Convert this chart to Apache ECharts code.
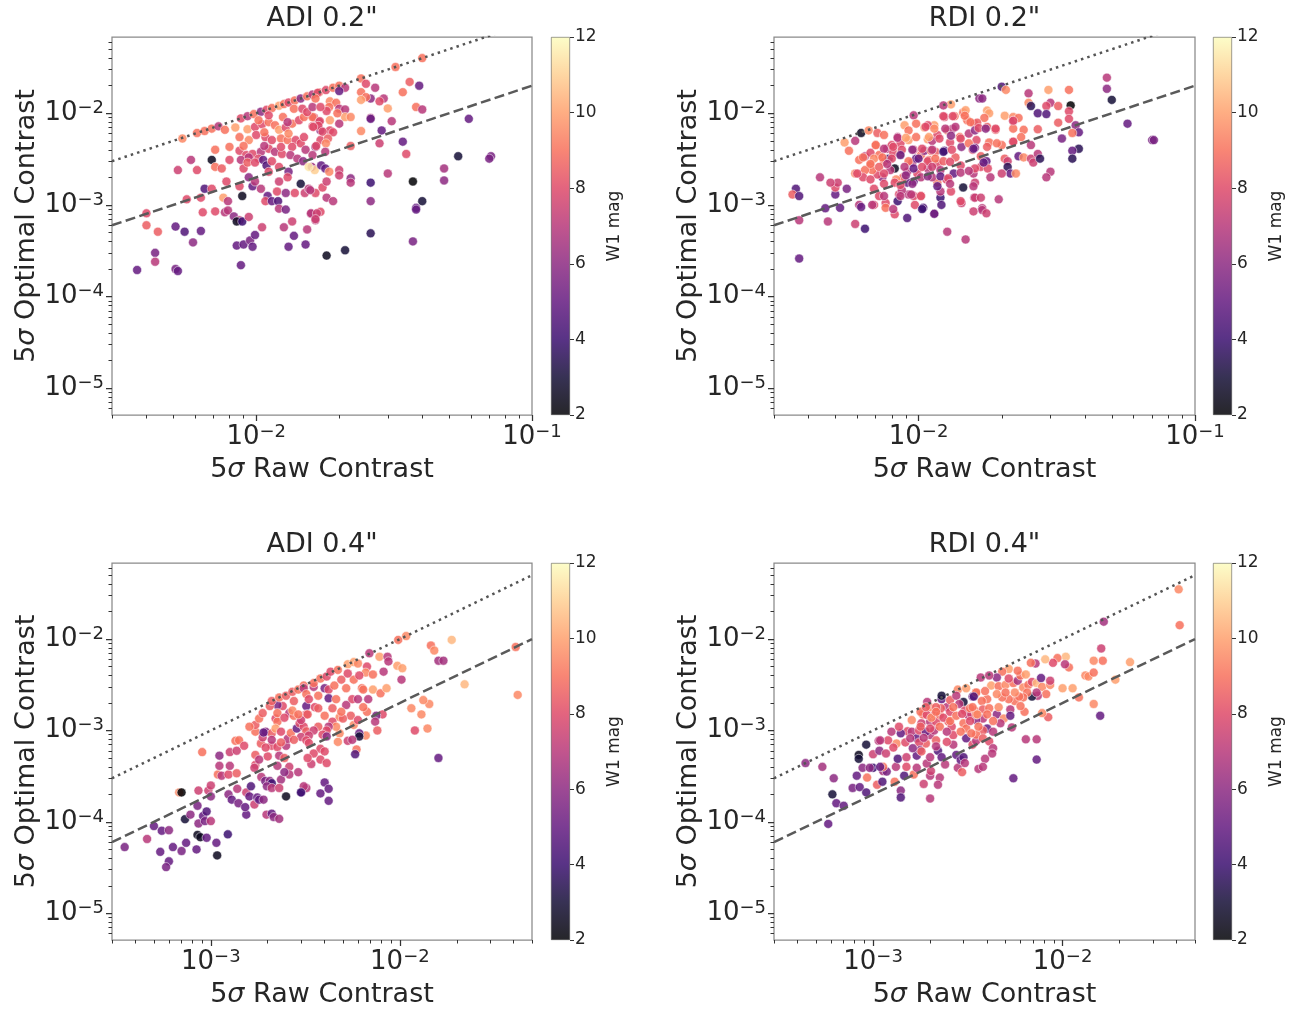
<!DOCTYPE html>
<html><head><meta charset="utf-8">
<script src="https://cdn.jsdelivr.net/npm/echarts@6/dist/echarts.min.js"></script>
<style>html,body{margin:0;padding:0;background:#fff}#chart{width:1290px;height:1011px}</style>
</head><body><div id="chart"></div>
<script>
// ---------- DATA: [raw contrast, optimal contrast, W1 mag] ----------
const adi02Points = [
[5.4e-3,5.3e-3,9.5],[6.1e-3,6.1e-3,9],[6.5e-3,6.4e-3,9],[6.9e-3,6.8e-3,9],[7.3e-3,7.2e-3,7],[7.7e-3,6.6e-3,9],[8.4e-3,7.0e-3,10],
[8.8e-3,8.8e-3,8],[9.3e-3,9.3e-3,7],[9.8e-3,9.8e-3,9],[1.04e-2,1.04e-2,6],[1.09e-2,1.09e-2,8],[1.14e-2,1.14e-2,9],[1.21e-2,1.21e-2,10],
[1.26e-2,1.26e-2,9],[1.31e-2,1.31e-2,8],[1.38e-2,1.38e-2,9],[1.45e-2,1.45e-2,6],[1.53e-2,1.53e-2,9],[1.6e-2,1.6e-2,7],[1.69e-2,1.69e-2,9],
[9.3e-3,6.7e-3,10],[9.9e-3,7.1e-3,8],[1.05e-2,7.6e-3,8],[1.11e-2,8.0e-3,9],[1.17e-2,7.4e-3,9],[1.21e-2,6.6e-3,10],[1.28e-2,7.0e-3,8],
[1.35e-2,7.7e-3,9],[1.43e-2,8.4e-3,8],[1.49e-2,9.1e-3,9],[1.37e-2,1.12e-2,9],[1.47e-2,1.12e-2,8],[1.62e-2,9.0e-3,8],[1.69e-2,8.0e-3,7],
[1.6e-2,7.2e-3,8],[1.71e-2,6.5e-3,6],[8.7e-3,5.5e-3,9],[9.4e-3,5.1e-3,9.5],[1.0e-2,5.8e-3,8],[1.08e-2,5.5e-3,8],[1.14e-2,5.1e-3,8],
[1.23e-2,5.3e-3,9],[1.3e-2,5.1e-3,9],[1.39e-2,5.1e-3,8],[1.45e-2,4.7e-3,8],[1.35e-2,4.3e-3,8],[1.51e-2,4.0e-3,7],[1.64e-2,4.3e-3,6],
[1.71e-2,5.1e-3,8],[7.1e-3,4.0e-3,9],[8.0e-3,4.3e-3,9],[8.7e-3,3.9e-3,8],[9.2e-3,3.5e-3,8],[9.7e-3,3.6e-3,8],[1.04e-2,3.8e-3,7],
[1.11e-2,4.1e-3,8],[1.17e-2,3.8e-3,7],[1.24e-2,3.6e-3,8],[1.33e-2,3.5e-3,7],[1.41e-2,3.2e-3,7],[5.8e-3,3.1e-3,7],[6.9e-3,3.1e-3,2.5],
[8.0e-3,3.1e-3,8],[8.8e-3,3.1e-3,7],[9.4e-3,3.3e-3,7],[1.02e-2,3.2e-3,8],[5.2e-3,2.4e-3,7.5],[6.1e-3,2.4e-3,8],[7.1e-3,2.6e-3,9],
[7.5e-3,2.5e-3,8.5],[9.0e-3,2.5e-3,8],[9.3e-3,2.9e-3,8.5],[9.9e-3,2.9e-3,8],[1.06e-2,3.1e-3,5],[1.09e-2,2.7e-3,4.5],[1.14e-2,3.0e-3,8],
[1.21e-2,2.6e-3,8],[1.31e-2,2.3e-3,5.5],[1.48e-2,3.0e-3,6],[1.59e-2,2.6e-3,6.5],[1.63e-2,2.4e-3,11],[6.5e-3,1.5e-3,4.5],[6.9e-3,1.5e-3,8],
[7.8e-3,1.8e-3,8],[8.7e-3,1.6e-3,8],[9.4e-3,2.0e-3,6],[9.7e-3,1.6e-3,5],[9.9e-3,1.8e-3,7],[1.04e-2,1.5e-3,7],[1.11e-2,2.3e-3,8],
[1.21e-2,1.8e-3,7.5],[1.3e-2,2.0e-3,8],[5.6e-3,1.15e-3,8],[6.3e-3,1.2e-3,8],[7.6e-3,1.2e-3,10],[7.9e-3,1.1e-3,7],[8.9e-3,1.25e-3,2.5],
[1.1e-2,1.25e-3,5],[1.19e-2,1.4e-3,8],[1.28e-2,1.35e-3,6],[1.38e-2,1.35e-3,8],[1.45e-2,1.7e-3,3],[1.5e-2,1.35e-3,7.5],[1.55e-2,1.5e-3,7],
[1.64e-2,1.35e-3,8],[1.74e-2,1.55e-3,8],[4.0e-3,8.1e-4,8],[6.4e-3,8.3e-4,8],[7.1e-3,8.5e-4,8],[7.7e-3,8.3e-4,7],[7.9e-3,8.7e-4,7],
[8.3e-3,7.5e-4,6],[8.7e-3,6.8e-4,7],[8.5e-3,6.6e-4,2.5],[8.9e-3,6.6e-4,4],[9.4e-3,7.4e-4,7.5],[1.08e-2,1.1e-3,8],[1.14e-2,1.1e-3,5],
[1.2e-2,1.1e-3,4.5],[1.21e-2,9.1e-4,7],[1.28e-2,8.9e-4,5.5],[1.35e-2,6.6e-4,7.5],[1.58e-2,8.0e-4,7],[1.64e-2,6.8e-4,7],[1.71e-2,8.4e-4,8],
[4.0e-3,6.0e-4,8.5],[4.4e-3,5.1e-4,8.5],[5.1e-3,5.8e-4,5],[5.5e-3,5.1e-4,4.5],[6.3e-3,5.2e-4,5],[5.9e-3,3.9e-4,6],[1.05e-2,5.7e-4,7.5],
[1.26e-2,5.7e-4,7],[1.37e-2,4.6e-4,5],[1.53e-2,5.4e-4,7],[1.51e-2,3.7e-4,5],[1.31e-2,3.5e-4,5],[8.5e-3,3.6e-4,5],[9.0e-3,3.7e-4,5],
[9.5e-3,4.1e-4,5.5],[9.7e-3,3.5e-4,5],[9.9e-3,4.7e-4,5],[4.3e-3,3.0e-4,5.5],[4.3e-3,2.4e-4,7],[3.7e-3,1.95e-4,5],[5.1e-3,2.0e-4,5.5],
[5.2e-3,1.9e-4,5],[8.8e-3,2.2e-4,5],
[1.67e-2,1.67e-2,8],[1.79e-2,1.79e-2,8],[1.9e-2,1.9e-2,9],[2.0e-2,2.0e-2,9],[2.1e-2,1.9e-2,7],[2.4e-2,2.4e-2,9],[2.5e-2,2.1e-2,8],
[3.2e-2,3.2e-2,9],[4.0e-2,4.0e-2,9],[2.0e-2,1.75e-2,5],[2.7e-2,1.9e-2,7],[3.6e-2,2.2e-2,8.5],[3.9e-2,2.0e-2,5],[3.4e-2,1.7e-2,9],
[2.4e-2,1.7e-2,9],[2.6e-2,1.45e-2,6],[2.5e-2,1.5e-2,9],[2.9e-2,1.45e-2,7],[2.8e-2,1.35e-2,8],[2.4e-2,1.4e-2,10],[1.85e-2,1.35e-2,9.5],
[1.95e-2,1.3e-2,9],[1.84e-2,1.17e-2,9],[1.8e-2,1.06e-2,8],[2.0e-2,1.12e-2,7],[2.1e-2,1.1e-2,7],[3.0e-2,1.13e-2,10],[3.8e-2,1.17e-2,9],
[4.0e-2,1.1e-2,7],[2.1e-2,9.1e-3,10],[2.2e-2,9.1e-3,9.5],[2.6e-2,8.9e-3,7],[2.6e-2,8.7e-3,5],[3.1e-2,8.2e-3,7],[5.9e-2,8.7e-3,5],
[1.6e-2,9.1e-3,9],[1.7e-2,8.2e-3,8],[1.85e-2,8.4e-3,10],[1.68e-2,7.3e-3,8],[1.85e-2,6.5e-3,8],[1.9e-2,6.2e-3,8],[1.74e-2,6.3e-3,8],
[2.4e-2,6.4e-3,9.5],[2.85e-2,6.5e-3,5],[1.82e-2,5.3e-3,8.5],[1.79e-2,4.7e-3,9.5],[1.65e-2,4.4e-3,8],[1.78e-2,3.8e-3,7],[2.2e-2,4.4e-3,8.5],
[2.8e-2,4.7e-3,7.5],[3.4e-2,4.9e-3,5],[3.5e-2,3.6e-3,8],[5.4e-2,3.4e-3,3],[7.1e-2,3.4e-3,5.5],[7.0e-2,3.2e-3,5.5],[1.55e-2,2.6e-3,11.5],
[1.72e-2,2.7e-3,5],[1.78e-2,2.5e-3,5],[1.84e-2,2.3e-3,9.5],[2.0e-2,2.4e-3,7.5],[2.0e-2,2.1e-3,7.5],[2.2e-2,1.95e-3,6],[2.2e-2,1.75e-3,7],
[3.0e-2,2.2e-3,7],[2.6e-2,1.75e-3,4],[3.7e-2,1.8e-3,2],[4.8e-2,2.5e-3,6.5],[4.8e-2,1.85e-3,6],[1.8e-2,1.8e-3,7.5],[1.57e-2,1.45e-3,7],
[1.8e-2,1.2e-3,7],[1.9e-2,1.1e-3,7],[2.6e-2,1.1e-3,6],[4.0e-2,1.1e-3,3],[3.8e-2,9.3e-4,5],[3.8e-2,8.9e-4,5],[1.58e-2,8.1e-4,7],
[1.66e-2,8.1e-4,7.5],[1.64e-2,7.0e-4,7.5],[2.6e-2,4.9e-4,3.5],[3.7e-2,4.0e-4,5.5],[2.1e-2,3.2e-4,3],[1.8e-2,2.8e-4,2.5],
[1.02e-2,8.4e-3,9],[1.11e-2,9.5e-3,8],[1.25e-2,9.1e-3,9],[1.3e-2,8.0e-3,7],[1.53e-2,1.03e-2,8],[1.6e-2,1.17e-2,7],[1.07e-2,6.2e-3,9],
[1.31e-2,6.0e-3,9.5],[1.49e-2,5.5e-3,8],[9.0e-3,4.4e-3,9],[1.07e-2,4.4e-3,7],[1.23e-2,4.3e-3,8],[1.6e-2,3.5e-3,7],[1.64e-2,1.45e-2,9],
[1.71e-2,1.17e-2,8],[1.97e-2,1.0e-2,9],[1.61e-2,7.1e-3,8],[2.0e-2,7.7e-3,7]
];
const rdi02Points = [
[6.2e-3,6.1e-3,2.5],[6.6e-3,6.5e-3,9.5],[7.1e-3,6.1e-3,8.5],[5.4e-3,4.8e-3,10],[5.9e-3,5.0e-3,7],[5.6e-3,3.9e-3,9],[6.1e-3,3.1e-3,9],
[6.4e-3,3.4e-3,7],[6.7e-3,2.7e-3,9],[7.0e-3,4.5e-3,9],[7.2e-3,3.5e-3,9],[7.5e-3,2.95e-3,9],[7.7e-3,4.1e-3,7],[7.8e-3,3.2e-3,4],
[8.2e-3,2.5e-3,2.5],[8.1e-3,3.7e-3,8],[8.4e-3,5.5e-3,7],[8.6e-3,3.6e-3,9.5],[8.9e-3,7.4e-3,10],[9.2e-3,6.5e-3,9],[9.2e-3,5.1e-3,10],
[9.6e-3,9.5e-3,7],[9.6e-3,4.0e-3,8],[9.5e-3,2.9e-3,7],[9.8e-3,3.2e-3,5],[9.9e-3,2.2e-3,8],[9.6e-3,1.8e-3,5],[1.02e-2,3.5e-3,9],
[1.05e-2,7.0e-3,10],[1.05e-2,3.9e-3,6],[1.08e-2,5.2e-3,10],[1.09e-2,3.1e-3,9],[1.08e-2,2.5e-3,7],[1.14e-2,7.4e-3,10],[1.17e-2,5.8e-3,8],
[1.15e-2,3.8e-3,8.5],[1.17e-2,2.8e-3,8],[1.2e-2,1.2e-3,4],[1.21e-2,1.0e-3,4.5],[1.2e-2,1.4e-3,7],[1.24e-2,3.9e-3,5],[1.24e-2,9.1e-3,8],
[1.31e-2,1.25e-2,10],[1.23e-2,1.22e-2,7],[1.27e-2,6.5e-3,9],[1.3e-2,4.8e-3,8],[1.33e-2,6.8e-3,7],[1.35e-2,9.3e-3,9],[1.36e-2,3.3e-3,8.5],
[1.41e-2,5.5e-3,9],[1.43e-2,4.3e-3,6],[1.45e-2,1.02e-2,9],[1.48e-2,1.08e-2,10],[1.45e-2,1.55e-3,3],[1.5e-2,8.4e-3,9],[1.52e-2,6.0e-3,7],
[1.59e-2,7.7e-3,8],[1.62e-2,5.1e-3,8],[1.57e-2,4.0e-3,8],[1.58e-2,2.2e-3,7],[1.59e-2,1.2e-3,7],[1.66e-2,1.45e-2,6],[1.34e-2,2.2e-3,5],
[1.26e-2,1.9e-3,8],[1.17e-2,1.75e-3,9],[1.12e-2,2.0e-3,7],[9.1e-3,1.75e-3,5],[1.02e-2,1.25e-3,9],[1.14e-2,8.0e-4,7],[1.04e-2,9.3e-4,4.5],
[9.7e-3,1.0e-3,8],[9.1e-3,7.2e-4,4.5],[9.2e-3,1.3e-3,7],[8.5e-3,1.3e-3,8],[8.4e-3,1.1e-3,4],[8.2e-3,7.9e-4,8],[7.6e-3,1.05e-3,8],
[7.6e-3,9.3e-4,9],[7.2e-3,1.25e-3,8],[6.9e-3,1.0e-3,8],[6.9e-3,1.5e-3,8],[7.4e-3,2.0e-3,6],[6.1e-3,1.0e-3,7],[6.2e-3,9.5e-4,5],
[5.9e-3,6.2e-4,7.5],[6.4e-3,5.5e-4,4],[5.5e-3,1.5e-3,5.5],[5.2e-3,9.3e-4,5],[5.0e-3,1.3e-3,5],[5.0e-3,1.55e-3,8],[5.1e-3,1.75e-3,7.5],
[4.8e-3,1.75e-3,7.5],[4.6e-3,9.2e-4,5],[4.7e-3,6.6e-4,7],[4.4e-3,2.0e-3,7],[3.6e-3,1.5e-3,4.5],[3.5e-3,1.3e-3,8.5],[3.7e-3,1.25e-3,4.5],
[3.7e-3,6.8e-4,7],[3.7e-3,2.6e-4,5],[1.27e-2,5.1e-4,7],[1.48e-2,4.2e-4,7],[1.43e-2,1.05e-3,7.5],[1.31e-2,1.4e-3,8],[9.6e-3,1.25e-3,8],
[8.7e-3,1.45e-3,7],[8.8e-3,2.0e-3,8.5],[8.3e-3,1.9e-3,9.5],[7.9e-3,2.4e-3,7],[7.1e-3,2.15e-3,8],[6.8e-3,2.4e-3,9],[6.4e-3,2.4e-3,9],
[5.9e-3,2.2e-3,9.5],[6.3e-3,2.0e-3,8],[9.1e-3,2.3e-3,7],[8.2e-3,1.75e-3,8],[8.6e-3,4.7e-3,8],[7.5e-3,5.8e-3,9],[8.0e-3,4.5e-3,8],
[6.7e-3,3.7e-3,8],[1.08e-2,7.4e-3,8],[1.11e-2,3.9e-3,9],[1.12e-2,5.0e-3,7],
[2.0e-2,1.95e-2,4.5],[2.07e-2,1.8e-2,9.5],[1.7e-2,1.45e-2,6],[2.5e-2,1.65e-2,7],[2.5e-2,1.3e-2,9.5],[2.55e-2,1.2e-2,3.5],[2.95e-2,1.8e-2,10],
[3.5e-2,1.8e-2,9],[3.0e-2,1.3e-2,7],[2.9e-2,1.2e-2,8],[3.2e-2,1.2e-2,8.5],[3.55e-2,1.22e-2,2],[3.5e-2,1.05e-2,8],[3.5e-2,8.7e-3,8],
[2.7e-2,1.0e-2,4.5],[2.9e-2,9.8e-3,4.5],[3.2e-2,7.9e-3,8.5],[3.7e-2,7.4e-3,6],[3.8e-2,6.2e-3,5],[3.6e-2,6.1e-3,9],[3.3e-2,5.3e-3,5.5],
[3.8e-2,4.1e-3,3.5],[3.6e-2,3.9e-3,5],[3.6e-2,3.2e-3,3.5],[4.8e-2,2.45e-2,7],[4.8e-2,1.85e-2,6],[5.0e-2,1.4e-2,3],[5.7e-2,7.7e-3,5],
[7.0e-2,5.1e-3,5.5],[7.1e-2,5.1e-3,5.5],[2.05e-2,9.4e-3,10],[2.2e-2,9.1e-3,9.5],[2.2e-2,8.2e-3,7],[2.3e-2,8.9e-3,9],[2.2e-2,6.8e-3,9],
[2.4e-2,6.6e-3,9],[2.7e-2,6.7e-3,8.5],[2.35e-2,5.5e-3,9],[2.2e-2,4.9e-3,8.5],[2.55e-2,4.5e-3,7],[2.0e-2,4.5e-3,9],[1.77e-2,1.07e-2,10],
[1.8e-2,1.0e-2,10],[1.73e-2,8.9e-3,9],[1.63e-2,7.9e-3,8.5],[1.77e-2,7.1e-3,8.5],[1.9e-2,6.6e-3,8.5],[1.6e-2,6.5e-3,6],[1.8e-2,4.8e-3,9],
[1.77e-2,4.3e-3,8.5],[1.6e-2,4.2e-3,6],[1.68e-2,3.4e-3,8.5],[1.76e-2,3.0e-3,5],[1.68e-2,2.6e-3,8],[1.78e-2,2.5e-3,8],[1.6e-2,2.5e-3,8],
[2.05e-2,3.2e-3,8.5],[2.1e-2,3.0e-3,7.5],[2.3e-2,3.4e-3,5],[2.4e-2,3.3e-3,9.5],[2.55e-2,3.2e-3,7.5],[2.6e-2,2.9e-3,7.5],[2.7e-2,3.6e-3,7],
[2.75e-2,3.2e-3,3.5],[2.1e-2,2.6e-3,3.5],[2.15e-2,2.2e-3,5],[2.25e-2,2.2e-3,9.5],[2.0e-2,2.2e-3,7.5],[1.82e-2,2.0e-3,7],[3.0e-2,2.3e-3,7],
[2.9e-2,2.0e-3,7],[1.6e-2,1.75e-3,7.5],[1.6e-2,1.2e-3,7.5],[1.68e-2,1.2e-3,7.5],[1.95e-2,1.15e-3,7],[1.7e-2,9.2e-4,7],[1.7e-2,8.8e-4,7],
[1.76e-2,8.1e-4,7.5],[1.58e-2,8.5e-4,7.5],
[1.23e-2,9.3e-3,8],[1.33e-2,9.3e-3,8],[1.47e-2,9.4e-3,9],[9.8e-3,7.7e-3,9],[1.06e-2,7.1e-3,8],[1.14e-2,6.8e-3,9.5],[1.25e-2,6.8e-3,7],
[1.36e-2,7.1e-3,7],[1.54e-2,8.0e-3,9],[1.65e-2,6.9e-3,8],[1.75e-2,6.8e-3,6],[1.9e-2,6.8e-3,8],[2.2e-2,8.3e-3,8],[8.4e-3,5.4e-3,7],
[9.0e-3,5.4e-3,10],[9.8e-3,5.5e-3,9],[1.09e-2,5.5e-3,10],[1.19e-2,5.3e-3,8],[1.31e-2,5.7e-3,6],[1.42e-2,5.3e-3,8],[1.52e-2,4.7e-3,9],
[1.58e-2,4.1e-3,5],[1.92e-2,4.7e-3,9],[2.2e-2,4.9e-3,8],[7.0e-3,4.5e-3,9],[7.5e-3,4.1e-3,7],[8.1e-3,4.3e-3,8],[8.7e-3,4.0e-3,8],
[9.5e-3,4.0e-3,6],[1.03e-2,4.1e-3,8],[1.12e-2,4.0e-3,7],[1.23e-2,3.8e-3,4],[1.32e-2,4.0e-3,8],[6.3e-3,3.3e-3,9],[6.9e-3,3.2e-3,9.5],
[7.4e-3,3.3e-3,9],[8.0e-3,3.2e-3,8],[8.6e-3,3.5e-3,5],[9.2e-3,3.0e-3,9],[1.0e-2,3.2e-3,5],[1.08e-2,3.0e-3,8],[1.15e-2,3.2e-3,9],
[1.23e-2,3.0e-3,8.5],[1.3e-2,2.95e-3,8],[1.42e-2,2.7e-3,8],[6.7e-3,2.8e-3,9],[7.2e-3,2.6e-3,8.5],[7.7e-3,2.8e-3,7],[8.9e-3,2.6e-3,7],
[9.6e-3,2.5e-3,5],[1.03e-2,2.6e-3,8],[1.12e-2,2.6e-3,7.5],[1.2e-2,2.4e-3,7],[6.0e-3,2.2e-3,8],[7.5e-3,2.2e-3,8],[9.0e-3,2.1e-3,6],
[1.02e-2,2.0e-3,7],[1.08e-2,2.05e-3,6],[1.2e-2,2.05e-3,5],[1.28e-2,1.95e-3,8],[1.42e-2,2.25e-3,7],[1.52e-2,2.35e-3,7],[1.72e-2,2.9e-3,5],
[6.7e-3,1.9e-3,8],[7.5e-3,1.7e-3,8],[8.6e-3,1.65e-3,8],[9.5e-3,1.7e-3,6],[1.17e-2,1.6e-3,5],[1.3e-2,1.7e-3,7],[1.58e-2,1.6e-3,7],
[7.5e-3,1.25e-3,7],[8.6e-3,1.25e-3,7],[9.4e-3,1.3e-3,7],[1.02e-2,1.25e-3,8],[1.42e-2,1.1e-3,8],[6.8e-3,1.0e-3,7],[8.1e-3,9.0e-4,7],
[1.03e-2,9.0e-4,4],[1.14e-2,8.0e-4,5]
];
const adi04Points = [
[3.5e-4,5.3e-5,5.5],[4.6e-4,6.5e-5,7],[5.0e-4,9.0e-5,5],[5.5e-4,8.0e-5,5],[6.0e-4,8.1e-5,6],[5.4e-4,4.7e-5,5],[6.0e-4,3.7e-5,5],
[5.8e-4,3.2e-5,5.5],[6.3e-4,5.3e-5,5],[7.0e-4,4.8e-5,5.5],[7.4e-4,5.9e-5,5],[8.4e-4,5.0e-5,5],[8.5e-4,7.2e-5,2.5],[8.8e-4,6.8e-5,2.5],
[9.5e-4,6.7e-5,5],[1.07e-3,5.9e-5,5],[1.08e-3,4.3e-5,2.5],[1.23e-3,7.3e-5,4],[7.3e-4,1.07e-4,3],[7.8e-4,1.2e-4,6],[8.6e-4,9.6e-5,6],
[9.1e-4,1.16e-4,5],[9.5e-4,1.3e-4,4.5],[9.3e-4,1.02e-4,5.5],[1.0e-3,1.02e-4,7],[8.5e-4,1.5e-4,5.5],[8.6e-4,2.2e-4,7.5],[6.8e-4,2.1e-4,9.5],
[7.0e-4,2.1e-4,2],[9.7e-4,2.2e-4,7.5],[1.0e-3,2.5e-4,7.5],[1.0e-3,1.9e-4,6],[1.09e-3,3.3e-4,9],[1.14e-3,3.2e-4,7],[1.11e-3,4.1e-4,7],
[1.11e-3,5.3e-4,6],[9.0e-4,5.8e-4,9],[1.24e-3,3.3e-4,8],[1.26e-3,4.1e-4,7],[1.26e-3,5.8e-4,7.5],[1.37e-3,6.0e-4,7.5],[1.24e-3,2.0e-4,6],
[1.29e-3,1.75e-4,5],[1.4e-3,1.6e-4,5.5],[1.38e-3,2.3e-4,7],[1.37e-3,3.4e-4,8.5],[1.35e-3,7.7e-4,9],[1.41e-3,7.8e-4,9],[1.5e-3,6.8e-4,8],
[1.54e-3,2.1e-4,7.5],[1.54e-3,1.2e-4,5],[1.52e-3,1.45e-4,5],[1.63e-3,2.45e-4,4.5],[1.6e-3,1.9e-4,5],[1.7e-3,1.55e-4,7.5],[1.76e-3,1.85e-4,5],
[1.8e-3,1.75e-4,5],[1.9e-3,1.75e-4,6],[1.97e-3,1.2e-4,7],[2.1e-3,1.23e-4,5],[2.15e-3,1.13e-4,6],[2.3e-3,1.08e-4,6.5],[1.72e-3,5.4e-4,8.5],
[1.72e-3,4.2e-4,8],[1.7e-3,3.9e-4,7.5],[1.84e-3,7.2e-4,8.5],[1.88e-3,8.4e-4,7.5],[1.72e-3,9.7e-4,9],[1.72e-3,1.15e-3,8.5],[1.8e-3,1.35e-3,9],
[1.88e-3,1.55e-3,8.5],[1.95e-3,9.7e-4,6],[2.1e-3,9.3e-4,8.5],[2.2e-3,1.35e-3,8],[2.25e-3,1.25e-3,9],[2.2e-3,1.05e-3,10],[2.1e-3,6.8e-4,8],
[2.25e-3,6.6e-4,8],[2.5e-3,6.8e-4,7],[2.3e-3,5.3e-4,7],[2.45e-3,5.0e-4,8.5],[2.0e-3,5.2e-4,8],[1.85e-3,3.1e-4,7],[1.94e-3,2.8e-4,5.5],
[2.05e-3,2.8e-4,6],[2.1e-3,2.65e-4,4],[1.98e-3,2.45e-4,6],[2.1e-3,2.35e-4,7],[2.35e-3,2.9e-4,6.5],[2.3e-3,2.35e-4,7.5],[2.5e-3,1.9e-4,2.5],
[2.6e-3,4.0e-4,7.5],[2.9e-3,3.5e-4,7],[2.6e-3,3.3e-4,7],[3.0e-3,2.1e-4,5],[3.2e-3,2.35e-4,7],[2.55e-3,8.1e-4,7],[2.65e-3,9.4e-4,9],
[2.35e-3,7.4e-4,8.5],[2.6e-3,1.55e-3,7],[2.75e-3,1.45e-3,9],[2.85e-3,1.05e-3,5],[2.95e-3,1.2e-3,8],[3.1e-3,1.1e-3,8],[3.2e-3,9.8e-4,8.5],
[3.0e-3,8.5e-4,7.5],[2.75e-3,2.1e-3,8.5],[2.4e-3,1.85e-3,8],[3.2e-3,1.85e-3,5],[2.25e-3,1.9e-3,5.5],[2.05e-3,1.85e-3,8.5],[2.1e-3,2.1e-3,8.5],
[2.3e-3,2.3e-3,9],[2.5e-3,2.4e-3,8.5],[2.7e-3,2.65e-3,8.5],[2.9e-3,2.8e-3,9],[3.1e-3,3.1e-3,9],[1.9e-3,9.5e-4,5],
[3.5e-3,3.0e-3,7],[3.1e-3,2.9e-3,7],[3.5e-3,3.3e-3,9],[3.8e-3,3.7e-3,9],[4.1e-3,3.9e-3,8],[4.0e-3,2.9e-3,5.5],[4.2e-3,2.8e-3,8],
[4.2e-3,2.25e-3,5],[4.3e-3,4.4e-3,8],[4.7e-3,4.6e-3,9],[5.3e-3,5.3e-3,10],[5.7e-3,5.6e-3,10],[6.0e-3,5.4e-3,9.5],[6.9e-3,7.0e-3,7],
[6.7e-3,5.0e-3,8],[6.6e-3,4.3e-3,9.5],[7.2e-3,4.1e-3,9],[7.8e-3,6.4e-3,10],[8.6e-3,6.4e-3,7],[8.7e-3,5.7e-3,7],[8.2e-3,4.4e-3,7],
[9.7e-3,5.1e-3,10],[1.03e-2,4.8e-3,10],[1.02e-2,3.6e-3,7],[9.8e-3,9.8e-3,9],[1.08e-2,1.08e-2,9.5],[1.46e-2,8.5e-3,9],[1.52e-2,7.5e-3,9.5],
[1.6e-2,5.8e-3,6.5],[1.7e-2,5.8e-3,6.5],[1.88e-2,9.8e-3,10.5],[2.2e-2,3.2e-3,10.5],[4.1e-2,8.2e-3,9],[4.2e-2,2.45e-3,9.5],[5.2e-3,2.9e-3,9],
[6.3e-3,2.9e-3,9],[6.4e-3,2.8e-3,9],[5.6e-3,2.2e-3,8],[5.2e-3,1.9e-3,7],[6.0e-3,2.2e-3,7],[6.8e-3,2.2e-3,7],[7.2e-3,2.8e-3,10],
[7.9e-3,2.55e-3,9],[8.5e-3,2.9e-3,10],[8.1e-3,1.5e-3,8],[7.5e-3,1.45e-3,5.5],[6.7e-3,1.6e-3,9],[7.4e-3,1.25e-3,7],[7.6e-3,1.0e-3,8.5],
[6.6e-3,8.8e-4,9.5],[6.1e-3,9.3e-4,5],[6.1e-3,8.6e-4,3],[5.9e-3,6.2e-4,9],[5.8e-3,5.5e-4,4.5],[4.8e-3,9.3e-4,9.5],[4.7e-3,7.5e-4,9.5],
[5.3e-3,7.7e-4,7.5],[5.6e-3,7.9e-4,7],[5.7e-3,1.15e-3,9.5],[5.5e-3,1.45e-3,8.5],[4.8e-3,1.4e-3,9.5],[4.4e-3,1.25e-3,8],[4.6e-3,1.1e-3,9.5],
[5.0e-3,1.35e-3,8.5],[4.2e-3,1.1e-3,7],[4.1e-3,1.0e-3,8],[3.9e-3,9.0e-4,8],[4.1e-3,8.6e-4,6],[3.7e-3,1.1e-3,8.5],[3.5e-3,1.0e-3,7.5],
[3.3e-3,8.8e-4,7.5],[3.2e-3,7.8e-4,8],[3.8e-3,6.3e-4,8],[4.0e-3,5.9e-4,8],[3.5e-3,5.6e-4,8],[3.8e-3,4.8e-4,8],[4.1e-3,4.4e-4,8],
[3.4e-3,4.3e-4,7.5],[3.1e-3,2.45e-4,7],[3.0e-3,2.1e-4,4],[4.0e-3,2.7e-4,5],[4.2e-3,2.3e-4,5],[3.8e-3,2.05e-4,5],[4.2e-3,1.7e-4,5],
[1.6e-2,5.0e-4,5],[1.2e-2,1.0e-3,8],[1.4e-2,1.05e-3,9.5],[1.3e-2,1.5e-3,9.5],[1.43e-2,1.95e-3,9.5],[1.33e-2,2.15e-3,9.5],[1.15e-2,1.75e-3,9.5],
[3.2e-3,2.5e-3,9],[3.55e-3,1.8e-3,8],[3.7e-3,1.75e-3,8.5],[3.2e-3,1.5e-3,8],[3.0e-3,1.3e-3,7.5],[4.9e-3,1.6e-3,9],[4.6e-3,2.2e-3,9],
[2.25e-3,1.55e-3,9],[2.45e-3,1.38e-3,8],[2.7e-3,1.65e-3,9.5],[2.9e-3,1.5e-3,9],[3.25e-3,1.5e-3,8.5],[2.35e-3,9.7e-4,8],[2.75e-3,7.9e-4,8.5],
[3.3e-3,7.3e-4,8],[2.1e-3,7.9e-4,7],[1.95e-3,6.5e-4,8],[1.8e-3,4.8e-4,7],[2.25e-3,4.1e-4,7],[2.45e-3,3.5e-4,6],[3.25e-3,5.0e-4,8],
[1.6e-3,1.1e-3,9],[3.3e-3,2.2e-3,8],[3.7e-3,2.4e-3,9],[4.5e-3,3.1e-3,9],[4.9e-3,3.6e-3,8.5],[5.7e-3,3.6e-3,9],[6.1e-3,4.0e-3,8],
[5.3e-3,4.2e-3,8],[4.4e-3,1.75e-3,8.5],[4.0e-3,1.45e-3,9],[6.0e-3,1.3e-3,8],[6.4e-3,1.8e-3,9]
];
const rdi04Points = [
[4.4e-4,4.4e-4,6],[5.4e-4,4.0e-4,6.5],[6.2e-4,3.0e-4,6],[6.1e-4,2.0e-4,3],[6.4e-4,1.6e-4,5],[7.0e-4,1.5e-4,5],[5.8e-4,9.5e-5,5],
[9.2e-4,7.0e-4,3],[8.4e-4,5.4e-4,2.5],[8.4e-4,4.9e-4,3],[8.8e-4,3.9e-4,6],[8.2e-4,3.2e-4,5],[7.8e-4,2.35e-4,5.5],[8.5e-4,2.4e-4,5],
[9.2e-4,2.1e-4,4.5],[9.3e-4,3.05e-4,9],[1.0e-3,3.9e-4,4],[1.0e-3,5.5e-4,7.5],[1.07e-3,7.7e-4,7],[1.08e-3,6.0e-4,6],[1.2e-3,7.8e-4,8],
[1.13e-3,3.6e-4,6.5],[1.18e-3,3.55e-4,5.5],[1.05e-3,2.55e-4,8.5],[1.12e-3,2.75e-4,4.5],[1.33e-3,7.2e-4,9.5],[1.32e-3,4.0e-4,7],[1.35e-3,4.9e-4,4.5],
[1.3e-3,2.75e-4,9],[1.4e-3,2.2e-4,6],[1.4e-3,1.85e-4,4.5],[1.46e-3,3.2e-4,4.5],[1.5e-3,5.1e-4,7.5],[1.5e-3,4.0e-4,8],[1.48e-3,7.4e-4,8],
[1.52e-3,9.8e-4,8],[1.6e-3,1.3e-3,9.5],[1.6e-3,9.7e-4,7],[1.64e-3,3.3e-4,9],[1.7e-3,3.9e-4,7],[1.7e-3,5.3e-4,5],[1.7e-3,8.2e-4,5],
[1.75e-3,1.0e-3,8],[1.8e-3,1.2e-3,7.5],[1.83e-3,1.5e-3,9],[1.85e-3,2.6e-4,7.5],[1.92e-3,4.35e-4,7],[2.0e-3,3.2e-4,7],[2.0e-3,5.1e-4,7],
[2.02e-3,3.6e-4,7.5],[2.0e-3,1.8e-4,7],[1.9e-3,7.2e-4,8.5],[2.0e-3,8.9e-4,7],[1.9e-3,9.7e-4,5],[2.0e-3,1.25e-3,7],[2.1e-3,1.48e-3,8],
[2.0e-3,1.8e-3,9.5],[1.93e-3,2.05e-3,7],[2.1e-3,1.0e-3,7],[2.15e-3,7.8e-4,8.5],[2.2e-3,6.0e-4,4.5],[2.25e-3,3.05e-4,7],[2.2e-3,2.55e-4,7],
[2.3e-3,5.1e-4,5],[2.4e-3,4.25e-4,7],[2.3e-3,2.2e-3,5],[2.3e-3,2.4e-3,3],[2.45e-3,1.8e-3,7],[2.55e-3,1.6e-3,8],[2.5e-3,1.25e-3,8.5],
[2.6e-3,1.1e-3,8],[2.65e-3,8.9e-4,8],[2.65e-3,7.0e-4,7],[2.75e-3,5.4e-4,5],[2.8e-3,3.9e-4,7],[2.95e-3,3.5e-4,8.5],[2.9e-3,4.75e-4,5],
[3.0e-3,5.1e-4,4.5],[3.05e-3,4.4e-4,7],[3.0e-3,2.05e-3,3],[2.8e-3,2.8e-3,9.5],[2.55e-3,2.15e-3,8.5],[3.1e-3,2.9e-3,10],[2.75e-3,2.4e-3,7],
[2.85e-3,1.95e-3,7],[3.05e-3,1.65e-3,8],[3.2e-3,1.45e-3,7],[3.0e-3,1.2e-3,9],[3.1e-3,1.05e-3,9],[3.3e-3,1.5e-3,7.5],[3.35e-3,2.35e-3,5],
[3.5e-3,2.6e-3,9.5],[3.1e-3,8.2e-4,5],[3.35e-3,7.0e-4,8],[3.5e-3,7.7e-4,7],[3.6e-3,3.8e-4,7],[2.15e-3,1.25e-3,8],[2.25e-3,1.48e-3,9],
[2.28e-3,1.75e-3,8.5],[2.15e-3,1.8e-3,8.5],[1.75e-3,7.4e-4,8],[1.77e-3,6.1e-4,6],[1.8e-3,5.9e-4,8.5],[1.62e-3,6.4e-4,6],[1.13e-3,4.0e-4,9],
[1.17e-3,5.6e-4,7.5],[1.09e-3,7.8e-4,7],[9.6e-4,3.9e-4,6],[1.09e-3,4.0e-4,5],
[4.1e-2,3.5e-2,9.5],[4.15e-2,1.42e-2,9],[1.65e-2,1.55e-2,6.5],[1.6e-2,7.9e-3,7.5],[1.63e-2,5.8e-3,9],[1.46e-2,5.8e-3,9.5],[2.27e-2,5.6e-3,10],
[1.04e-2,6.4e-3,10.5],[1.08e-2,4.9e-3,9],[9.4e-3,6.2e-3,9],[8.9e-3,5.5e-3,8],[1.03e-2,5.3e-3,7],[8.1e-3,6.0e-3,10.5],[7.2e-3,5.4e-3,7],
[6.8e-3,5.5e-3,9],[1.32e-2,4.0e-3,9.5],[1.37e-2,3.9e-3,9.5],[1.46e-2,4.3e-3,9],[1.9e-2,3.6e-3,10],[1.0e-2,2.9e-3,10],[1.13e-2,2.9e-3,10],
[1.22e-2,2.3e-3,9],[1.46e-2,1.95e-3,9.5],[1.58e-2,1.45e-3,5],[8.4e-3,1.4e-3,8.5],[7.8e-3,1.55e-3,9.5],[6.4e-3,8.0e-4,7],[7.3e-3,8.0e-4,7],
[7.3e-3,4.8e-4,5],[5.5e-3,3.0e-4,5],[5.2e-3,4.7e-3,10],[4.8e-3,4.4e-3,9],[3.7e-3,3.8e-3,7],[4.5e-3,3.8e-3,6],[4.2e-3,3.1e-3,10],
[4.6e-3,3.05e-3,9],[5.0e-3,3.15e-3,9.5],[5.5e-3,3.3e-3,9],[5.8e-3,3.5e-3,6.5],[6.0e-3,4.0e-3,9],[6.2e-3,2.95e-3,9.5],[6.6e-3,3.15e-3,9],
[6.9e-3,3.4e-3,8],[7.3e-3,3.3e-3,10.5],[7.8e-3,3.0e-3,9.5],[8.6e-3,3.15e-3,9.5],[8.2e-3,2.5e-3,9],[7.4e-3,2.4e-3,7],[6.9e-3,2.35e-3,3],
[6.5e-3,2.6e-3,9],[6.2e-3,2.3e-3,9],[5.6e-3,2.1e-3,9],[5.2e-3,2.2e-3,9],[4.8e-3,2.3e-3,9],[4.5e-3,2.5e-3,9.5],[4.0e-3,2.2e-3,9],
[3.5e-3,2.6e-3,9],[3.4e-3,2.35e-3,4.5],[3.75e-3,2.1e-3,9],[3.45e-3,1.65e-3,9],[3.8e-3,1.7e-3,8.5],[4.1e-3,1.75e-3,9],[4.5e-3,1.5e-3,6],
[5.3e-3,1.7e-3,7],[4.9e-3,1.35e-3,9.5],[4.7e-3,1.2e-3,7],[4.0e-3,1.05e-3,5],[4.3e-3,9.7e-4,7],[3.8e-3,1.35e-3,7],[3.5e-3,1.3e-3,6],
[3.8e-3,1.0e-3,8.5],[3.5e-3,9.0e-4,9],[3.8e-3,8.2e-4,8.5],[4.1e-3,7.6e-4,8],[4.3e-3,6.4e-4,7],[4.25e-3,5.6e-4,7],[3.9e-3,4.9e-4,7],
[3.8e-3,4.0e-4,7],[5.4e-3,1.08e-3,7],[5.3e-3,1.45e-3,5],[6.3e-3,1.6e-3,9],[5.9e-3,2.35e-3,9],[7.7e-3,3.75e-3,5],[8.6e-3,3.5e-3,7.5],
[7.3e-3,2.6e-3,7],
[1.78e-3,1.6e-3,9],[1.92e-3,1.48e-3,8],[2.03e-3,1.38e-3,9.5],[2.15e-3,1.6e-3,9],[2.35e-3,1.38e-3,8],[2.55e-3,1.27e-3,9],[2.75e-3,1.45e-3,9],
[2.95e-3,1.52e-3,8],[3.25e-3,1.75e-3,9],[3.5e-3,1.5e-3,9],[1.78e-3,1.1e-3,8.5],[2.0e-3,1.05e-3,8],[2.25e-3,1.1e-3,9],[2.45e-3,9.7e-4,7],
[2.9e-3,9.7e-4,9],[3.3e-3,9.3e-4,9],[1.85e-3,8.3e-4,7],[2.15e-3,6.7e-4,7],[2.45e-3,7.5e-4,8],[1.9e-3,1.8e-3,8.5],[2.65e-3,1.8e-3,9],
[1.57e-3,8.2e-4,7],[1.4e-3,9.3e-4,5],[1.25e-3,9.7e-4,7],[1.28e-3,6.5e-4,8],[1.37e-3,1.1e-3,8],
[3.35e-3,1.8e-3,9],[3.55e-3,1.5e-3,9.5],[4.0e-3,1.5e-3,9],[4.3e-3,1.27e-3,9],[3.25e-3,1.27e-3,8],[3.6e-3,1.1e-3,9],[4.6e-3,1.8e-3,9.5],
[5.0e-3,2.6e-3,9],[5.6e-3,2.6e-3,9.5],[5.2e-3,3.7e-3,8],[5.8e-3,4.5e-3,9],[6.4e-3,4.1e-3,10],[4.1e-3,4.0e-3,7],[3.9e-3,2.7e-3,9],
[6.0e-3,1.85e-3,9]
];

const panelTitles = ['ADI 0.2"', 'RDI 0.2"', 'ADI 0.4"', 'RDI 0.4"'];
const xRanges = [[0.003, 0.1], [0.003, 0.1], [3e-4, 0.05], [3e-4, 0.05]];
const yRange = [5.1e-6, 0.068];
const majorTicks = [1e-5, 1e-4, 1e-3, 1e-2, 1e-1];
const minorMultipliers = [2, 3, 4, 5, 6, 7, 8, 9];
const oneToOneLines = [[[0.003, 0.003], [0.1, 0.1]], [[0.003, 0.003], [0.1, 0.1]], [[3e-4, 3e-4], [0.05, 0.05]], [[3e-4, 3e-4], [0.05, 0.05]]];
const fifthLines = [[[0.003, 6e-4], [0.1, 0.02]], [[0.003, 6e-4], [0.1, 0.02]], [[3e-4, 6e-5], [0.05, 0.01]], [[3e-4, 6e-5], [0.05, 0.01]]];
const colorbarRange = [2, 12];
const colorbarStep = 2;

// ---------- STYLE / LAYOUT ----------
const MAGMA = ['#000004','#140e36','#3b0f70','#641a80','#8c2981','#b73779','#de4968','#f7705c','#fe9f6d','#fecf92','#fcfdbf'];
const FONT = 'DejaVu Sans';
const TEXT = '#262626';
const plotBoxes = [[112, 37, 420, 378], [774, 37, 421, 378], [112, 563, 420, 377], [774, 563, 421, 377]];
const cbBoxes = [[551, 37, 19, 378], [1213, 37, 19, 378], [551, 563, 19, 377], [1213, 563, 19, 377]];

const panelPoints = [adi02Points, rdi02Points, adi04Points, rdi04Points];
const L = Math.log10;
const majorVals = majorTicks.map(L);
const minorVals = [];
for (let e = -6; e <= 0; e++) for (const m of minorMultipliers) minorVals.push(L(m) + e);
const within = (vals, lo, hi) => vals.filter(v => v >= lo - 1e-9 && v <= hi + 1e-9);
const supFmt = v => { const e = Math.round(v); return '{b|10}{s|' + (e < 0 ? '\u2212' : '') + Math.abs(e) + '}'; };
const tickRich = {
  b: {fontSize: 26, fontFamily: FONT, color: TEXT, lineHeight: 28},
  s: {fontSize: 18, fontFamily: FONT, color: TEXT, lineHeight: 10, verticalAlign: 'top'}
};
const nameStyle = {fontSize: 27, fontFamily: FONT, color: TEXT,
  rich: {i: {fontSize: 27, fontFamily: FONT, color: TEXT, fontStyle: 'italic'}}};

const grid = [], xAxis = [], yAxis = [], series = [], graphic = [], scatterIdx = [];

for (let p = 0; p < 4; p++) {
  const [gl, gt, gw, gh] = plotBoxes[p];
  grid.push({left: gl, top: gt, width: gw, height: gh, show: true, borderColor: '#8a8a8a', borderWidth: 1.25, backgroundColor: 'rgba(0,0,0,0)'});
  const xlo = L(xRanges[p][0]), xhi = L(xRanges[p][1]), ylo = L(yRange[0]), yhi = L(yRange[1]);
  xAxis.push({type: 'value', gridIndex: p, position: 'bottom', min: xlo, max: xhi,
    axisLine: {show: false}, splitLine: {show: false},
    axisTick: {show: true, length: 6, customValues: within(majorVals, xlo, xhi), lineStyle: {color: '#333', width: 1.25}},
    axisLabel: {customValues: within(majorVals, xlo, xhi), formatter: supFmt, rich: tickRich, margin: 8},
    name: '5{i|\u03c3} Raw Contrast', nameLocation: 'middle', nameGap: 41, nameTextStyle: nameStyle});
  xAxis.push({type: 'value', gridIndex: p, position: 'bottom', min: xlo, max: xhi,
    axisLine: {show: false}, splitLine: {show: false}, axisLabel: {show: false},
    axisTick: {show: true, length: 3.5, customValues: within(minorVals, xlo, xhi), lineStyle: {color: '#333', width: 1}}});
  yAxis.push({type: 'value', gridIndex: p, position: 'left', min: ylo, max: yhi,
    axisLine: {show: false}, splitLine: {show: false},
    axisTick: {show: true, length: 6, customValues: within(majorVals, ylo, yhi), lineStyle: {color: '#333', width: 1.25}},
    axisLabel: {customValues: within(majorVals, ylo, yhi), formatter: supFmt, rich: tickRich, margin: 8},
    name: '5{i|\u03c3} Optimal Contrast', nameLocation: 'middle', nameGap: 70, nameTextStyle: nameStyle});
  yAxis.push({type: 'value', gridIndex: p, position: 'left', min: ylo, max: yhi,
    axisLine: {show: false}, splitLine: {show: false}, axisLabel: {show: false},
    axisTick: {show: true, length: 3.5, customValues: within(minorVals, ylo, yhi), lineStyle: {color: '#333', width: 1}}});

  scatterIdx.push(series.length);
  series.push({type: 'scatter', xAxisIndex: 2 * p, yAxisIndex: 2 * p, z: 2,
    data: panelPoints[p].map(d => [L(d[0]), L(d[1]), d[2]]),
    symbolSize: 9, itemStyle: {borderColor: '#ffffff', borderWidth: 0.6, opacity: 0.85}});
  series.push({type: 'line', xAxisIndex: 2 * p, yAxisIndex: 2 * p, z: 3, silent: true, symbol: 'none',
    data: oneToOneLines[p].map(d => [L(d[0]), L(d[1])]),
    lineStyle: {color: '#555555', width: 2.5, type: [2.5, 4.1], cap: 'butt'}});
  series.push({type: 'line', xAxisIndex: 2 * p, yAxisIndex: 2 * p, z: 3, silent: true, symbol: 'none',
    data: fifthLines[p].map(d => [L(d[0]), L(d[1])]),
    lineStyle: {color: '#5a5a5a', width: 2.5, type: [10, 4.4], cap: 'butt'}});

  graphic.push({type: 'text', x: gl + gw / 2, y: gt - 18,
    style: {text: panelTitles[p], fontSize: 27, fontFamily: FONT, fill: TEXT, align: 'center', verticalAlign: 'middle'}});
}

const gradStops = MAGMA.slice().reverse().map((c, i) => ({offset: i / (MAGMA.length - 1), color: c}));
for (let p = 0; p < 4; p++) {
  const [cl, ct, cw, ch] = cbBoxes[p];
  grid.push({left: cl, top: ct, width: cw, height: ch});
  xAxis.push({type: 'category', gridIndex: 4 + p, data: ['W1'], show: false});
  yAxis.push({type: 'value', gridIndex: 4 + p, position: 'right', min: colorbarRange[0], max: colorbarRange[1], interval: colorbarStep,
    axisLine: {show: false}, splitLine: {show: false},
    axisTick: {show: true, length: 4, lineStyle: {color: '#333', width: 1}},
    axisLabel: {fontSize: 17, fontFamily: FONT, color: TEXT, margin: 5},
    name: 'W1 mag', nameLocation: 'middle', nameGap: 36, nameTextStyle: {fontSize: 17, fontFamily: FONT, color: TEXT}});
  series.push({type: 'bar', xAxisIndex: 8 + p, yAxisIndex: 8 + p, stack: 'cb' + p, barWidth: '100%', silent: true,
    data: [colorbarRange[0]], itemStyle: {color: 'rgba(0,0,0,0)'}});
  series.push({type: 'bar', xAxisIndex: 8 + p, yAxisIndex: 8 + p, stack: 'cb' + p, barWidth: '100%', silent: true,
    data: [colorbarRange[1] - colorbarRange[0]],
    itemStyle: {color: new echarts.graphic.LinearGradient(0, 0, 0, 1, gradStops), opacity: 0.85, borderColor: '#444', borderWidth: 0.6}});
}

const chart = echarts.init(document.getElementById('chart'), null, {renderer: 'canvas'});
chart.setOption({
  backgroundColor: '#ffffff',
  animation: false,
  grid, xAxis, yAxis, series, graphic,
  visualMap: [{type: 'continuous', show: false, min: colorbarRange[0], max: colorbarRange[1], dimension: 2,
    seriesIndex: scatterIdx, inRange: {color: MAGMA}}]
});
</script></body></html>
